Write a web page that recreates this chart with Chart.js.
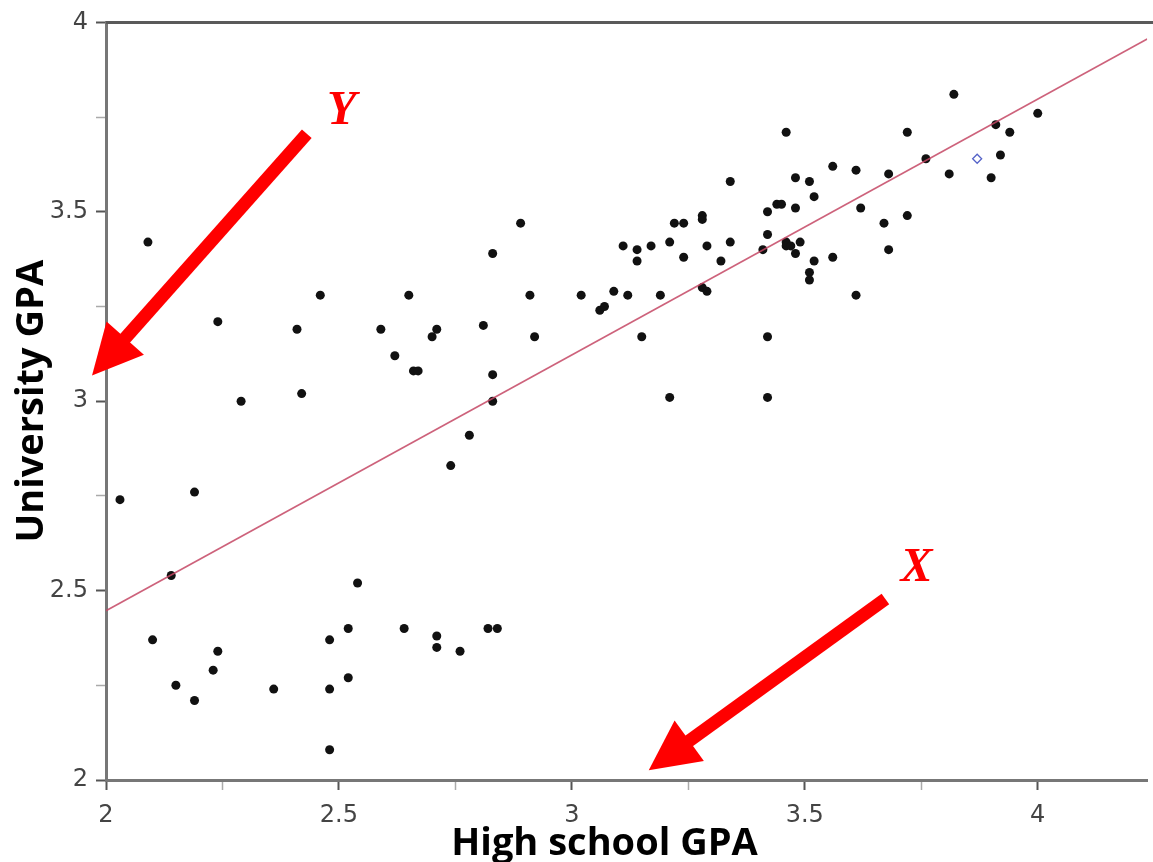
<!DOCTYPE html>
<html>
<head>
<meta charset="utf-8">
<script src="https://cdn.jsdelivr.net/npm/chart.js@4"></script>
<style>
  html, body { margin: 0; padding: 0; background: #fff; overflow: hidden; }
  canvas { display: block; }
</style>
</head>
<body>
<canvas id="cGpa" width="1153" height="862"></canvas>
<script>
// ===== High school GPA vs University GPA =====
const hsGpa = [
    2.03, 2.09, 2.10, 2.14, 2.15, 2.19, 2.19, 2.23, 2.24, 2.24, 2.29, 2.36, 2.41, 2.42, 2.46,
    2.48, 2.48, 2.48, 2.52, 2.52, 2.54, 2.59, 2.62, 2.64, 2.65, 2.66, 2.67, 2.70, 2.71, 2.71,
    2.71, 2.74, 2.76, 2.78, 2.81, 2.82, 2.83, 2.83, 2.83, 2.84, 2.89, 2.91, 2.92,
    3.02, 3.06, 3.07, 3.09, 3.11, 3.12, 3.14, 3.14, 3.15, 3.17, 3.19, 3.21, 3.21, 3.22, 3.24,
    3.24, 3.28, 3.28, 3.28, 3.29, 3.29, 3.32, 3.34, 3.34, 3.41, 3.42, 3.42, 3.42, 3.42, 3.44,
    3.45, 3.46, 3.46, 3.46, 3.47, 3.48, 3.48, 3.48, 3.49, 3.51, 3.51, 3.51, 3.52, 3.52, 3.56,
    3.56, 3.61, 3.61, 3.62, 3.67, 3.68, 3.68, 3.72, 3.72, 3.76, 3.81, 3.82, 3.90, 3.91, 3.92,
    3.94, 4.00
];
const uniGpa = [
    2.74, 3.42, 2.37, 2.54, 2.25, 2.76, 2.21, 2.29, 3.21, 2.34, 3.00, 2.24, 3.19, 3.02, 3.28,
    2.37, 2.24, 2.08, 2.40, 2.27, 2.52, 3.19, 3.12, 2.40, 3.28, 3.08, 3.08, 3.17, 3.19, 2.38,
    2.35, 2.83, 2.34, 2.91, 3.20, 2.40, 3.39, 3.07, 3.00, 2.40, 3.47, 3.28, 3.17,
    3.28, 3.24, 3.25, 3.29, 3.41, 3.28, 3.40, 3.37, 3.17, 3.41, 3.28, 3.42, 3.01, 3.47, 3.47,
    3.38, 3.49, 3.48, 3.30, 3.29, 3.41, 3.37, 3.42, 3.58, 3.40, 3.50, 3.44, 3.17, 3.01, 3.52,
    3.52, 3.42, 3.41, 3.71, 3.41, 3.51, 3.39, 3.59, 3.42, 3.58, 3.34, 3.32, 3.54, 3.37, 3.62,
    3.38, 3.61, 3.28, 3.51, 3.47, 3.60, 3.40, 3.71, 3.49, 3.64, 3.60, 3.81, 3.59, 3.73, 3.65,
    3.71, 3.76
];
// the single hollow blue point
const markedHs = [3.87];
const markedUni = [3.64];
// fitted line end points
const fitHs = [2.0, 4.235];
const fitUni = [2.447, 3.956];
// axis range / ticks
const xRange = [2, 4.235];
const yRange = [2, 4];
const tickStep = 0.25;

// annotations (data units): arrow tail, arrow tip, letter position
const arrows = [
    { label: 'Y', tail: [2.431, 3.706], tip: [1.970, 3.068], text: [2.506, 3.764] },
    { label: 'X', tail: [3.673, 2.478], tip: [3.165, 2.026], text: [3.740, 2.559] }
];
const xTitle = 'High school GPA';
const yTitle = 'University GPA';

const zip = (xs, ys) => xs.map((x, i) => ({ x, y: ys[i] }));
const isMajor = v => Math.abs(v * 2 - Math.round(v * 2)) < 1e-6;

function drawArrow(ctx, x1, y1, x2, y2) {
    const dx = x2 - x1, dy = y2 - y1;
    const len = Math.hypot(dx, dy);
    const ux = dx / len, uy = dy / len;
    const headLen = 50, headHalf = 25, shaft = 13;
    const bx = x2 - ux * headLen, by = y2 - uy * headLen;
    ctx.save();
    ctx.strokeStyle = '#ff0000';
    ctx.fillStyle = '#ff0000';
    ctx.lineWidth = shaft;
    ctx.lineCap = 'butt';
    ctx.beginPath();
    ctx.moveTo(x1, y1);
    ctx.lineTo(bx + ux * 2, by + uy * 2);
    ctx.stroke();
    ctx.beginPath();
    ctx.moveTo(x2, y2);
    ctx.lineTo(bx - uy * headHalf, by + ux * headHalf);
    ctx.lineTo(bx + uy * headHalf, by - ux * headHalf);
    ctx.closePath();
    ctx.fill();
    ctx.restore();
}

const decorPlugin = {
    id: 'decor',
    afterDraw(chart) {
        const { ctx, chartArea, scales: { x, y } } = chart;
        // top frame line
        ctx.save();
        ctx.strokeStyle = '#5a5a5a';
        ctx.lineWidth = 3;
        ctx.beginPath();
        ctx.moveTo(chartArea.left, chartArea.top);
        ctx.lineTo(chart.width, chartArea.top);
        ctx.stroke();

        // axis titles
        ctx.fillStyle = '#000';
        ctx.font = 'bold 38px "Open Sans"';
        ctx.textAlign = 'center';
        ctx.textBaseline = 'alphabetic';
        ctx.fillText(xTitle, x.getPixelForValue(3.07), 855);
        ctx.translate(43, (y.top + y.bottom) / 2);
        ctx.rotate(-Math.PI / 2);
        ctx.fillText(yTitle, 0, 0);
        ctx.restore();

        // red arrows + italic letters
        arrows.forEach(a => {
            drawArrow(ctx,
                x.getPixelForValue(a.tail[0]), y.getPixelForValue(a.tail[1]),
                x.getPixelForValue(a.tip[0]), y.getPixelForValue(a.tip[1]));
            ctx.save();
            ctx.fillStyle = '#ff0000';
            ctx.font = 'italic bold 48px "Liberation Serif"';
            ctx.textAlign = 'center';
            ctx.textBaseline = 'middle';
            ctx.fillText(a.label, x.getPixelForValue(a.text[0]), y.getPixelForValue(a.text[1]));
            ctx.restore();
        });
    }
};

const tickFont = { family: 'DejaVu Sans', size: 24 };
const axisCommon = {
    type: 'linear',
    ticks: {
        stepSize: tickStep, includeBounds: false, autoSkip: false, maxRotation: 0,
        color: '#444', font: tickFont,
        callback: v => isMajor(v) ? String(v) : ''
    },
    grid: {
        drawOnChartArea: false, drawTicks: true, tickLength: 10,
        tickColor: c => c.tick && isMajor(c.tick.value) ? '#555' : '#aaa',
        tickWidth: c => c.tick && isMajor(c.tick.value) ? 2 : 1.5
    },
    border: { display: true, color: '#777', width: 3 }
};

new Chart(document.getElementById('cGpa').getContext('2d'), {
    type: 'scatter',
    data: { datasets: [
        { label: 'fit', type: 'line', data: zip(fitHs, fitUni), borderColor: 'rgba(196,70,100,0.85)', borderWidth: 1.6, pointRadius: 0, fill: false, order: 0 },
        { label: 'marked', data: zip(markedHs, markedUni), pointStyle: 'rectRot', pointRadius: 4.5, backgroundColor: '#fff', borderColor: '#5563c8', borderWidth: 1.3, order: 1 },
        { label: 'students', data: zip(hsGpa, uniGpa), pointRadius: 4.5, backgroundColor: '#111', borderWidth: 0, order: 2 }
    ]},
    options: {
        responsive: false, animation: false, devicePixelRatio: 1,
        layout: { padding: { top: 18, right: 0, left: 0, bottom: 0 } },
        scales: {
            x: { ...axisCommon, min: xRange[0], max: xRange[1],
                 ticks: { ...axisCommon.ticks, padding: 11 },
                 afterFit: s => { s.height = 82; s.paddingRight = 0; s.paddingLeft = 0; } },
            y: { ...axisCommon, min: yRange[0], max: yRange[1],
                 ticks: { ...axisCommon.ticks, padding: 8 },
                 afterFit: s => { s.width = 106; } }
        },
        plugins: { legend: { display: false }, tooltip: { enabled: false } }
    },
    plugins: [decorPlugin]
});
</script>
</body>
</html>
